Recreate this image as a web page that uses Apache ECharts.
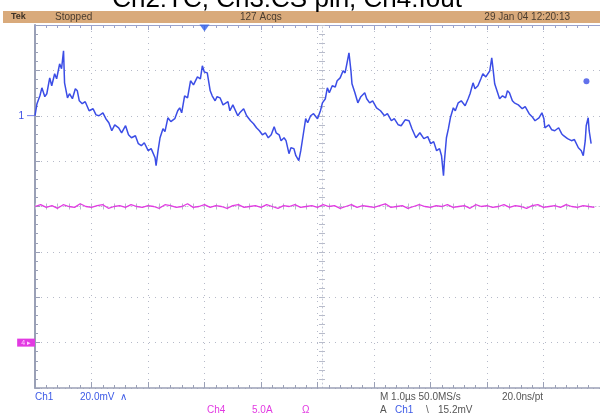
<!DOCTYPE html>
<html>
<head>
<meta charset="utf-8">
<script src="https://cdn.jsdelivr.net/npm/echarts@6/dist/echarts.min.js"></script>
<style>
html,body{margin:0;padding:0;background:#fff;}
#c{width:600px;height:415px;}
</style>
</head>
<body>
<div id="c"></div>
<script>
// ---- Data ----
// Ch1 trace: [time in µs, voltage in mV] (20 mV/div, 1 µs/div)
const ch1Trace = [
 [0,0],[0.035,5.3],[0.087,8.8],[0.122,12.3],[0.174,8.4],[0.209,9.7],[0.244,14.5],[0.261,16.7],[0.296,13.2],[0.348,18.5],
 [0.383,16.3],[0.436,22.9],[0.470,20.7],[0.505,28.6],[0.523,14.5],[0.575,7.9],[0.610,9.7],[0.662,7.5],[0.714,11.9],[0.749,11.0],
 [0.784,6.6],[0.836,5.3],[0.889,6.2],[0.958,2.2],[1.028,3.1],[1.080,0.4],[1.132,0],[1.202,1.3],[1.254,-1.3],[1.307,-3.1],
 [1.359,-6.6],[1.411,-4.0],[1.481,-5.3],[1.533,-7.5],[1.603,-4.4],[1.655,-8.4],[1.707,-9.7],[1.777,-8.8],[1.829,-12.3],[1.882,-13.2],
 [1.934,-11.9],[2.003,-15.4],[2.056,-14.5],[2.125,-18.5],[2.143,-22.0],[2.178,-15.4],[2.213,-9.7],[2.265,-5.7],[2.300,-7.0],[2.352,-0.9],
 [2.404,-2.6],[2.474,-1.3],[2.526,2.2],[2.561,3.5],[2.596,1.3],[2.648,8.8],[2.700,7.9],[2.753,15.4],[2.805,13.6],[2.875,17.1],
 [2.927,16.3],[2.962,22.0],[2.997,19.3],[3.049,18.9],[3.101,11.0],[3.136,8.8],[3.188,6.6],[3.223,8.4],[3.275,7.9],[3.328,4.8],
 [3.362,4.4],[3.415,6.2],[3.449,2.2],[3.502,4.8],[3.537,4.4],[3.589,0],[3.624,1.3],[3.693,3.1],[3.746,0],[3.815,-2.2],
 [3.868,-3.5],[3.920,-5.3],[3.972,-6.6],[4.024,-8.4],[4.077,-7.5],[4.129,-9.7],[4.181,-8.4],[4.233,-4.8],[4.268,-7.5],[4.321,-8.4],
 [4.355,-11.0],[4.408,-9.7],[4.443,-11.0],[4.495,-16.7],[4.530,-14.1],[4.582,-14.5],[4.617,-17.6],[4.669,-19.8],[4.704,-15.4],[4.739,-9.7],
 [4.791,-1.3],[4.826,-3.1],[4.878,0],[4.930,0.9],[5.000,-1.3],[5.052,2.2],[5.087,5.7],[5.139,7.5],[5.174,12.3],[5.209,10.1],
 [5.261,13.2],[5.314,12.7],[5.348,15.4],[5.401,16.7],[5.453,19.8],[5.488,18.9],[5.523,23.3],[5.557,27.7],[5.592,19.8],[5.610,14.1],
 [5.662,10.1],[5.714,5.7],[5.767,8.4],[5.836,10.1],[5.871,7.5],[5.923,5.7],[5.976,6.6],[6.045,3.5],[6.115,2.2],[6.185,0],
 [6.237,0.9],[6.307,-2.2],[6.359,-1.3],[6.429,-4.0],[6.481,-4.4],[6.551,-1.8],[6.620,-2.2],[6.672,-5.7],[6.742,-9.7],[6.812,-7.5],
 [6.882,-10.1],[6.951,-9.2],[7.003,-12.3],[7.056,-11.4],[7.108,-15.4],[7.160,-14.5],[7.195,-17.6],[7.230,-26.4],[7.247,-19.8],[7.282,-9.7],
 [7.317,-5.7],[7.352,-0.9],[7.404,3.5],[7.439,2.2],[7.491,5.7],[7.544,6.6],[7.613,4.4],[7.666,7.5],[7.700,9.7],[7.753,14.5],
 [7.787,11.9],[7.840,13.2],[7.892,16.3],[7.927,18.5],[7.979,17.1],[8.049,19.8],[8.084,25.5],[8.101,22.0],[8.136,14.1],[8.188,10.1],
 [8.223,7.5],[8.275,8.8],[8.328,7.9],[8.362,11.0],[8.397,10.1],[8.449,6.6],[8.484,5.7],[8.554,4.8],[8.624,3.1],[8.676,4.0],
 [8.746,0.9],[8.798,-0.4],[8.850,-2.2],[8.920,-0.9],[8.972,1.3],[9.007,-1.3],[9.024,-5.3],[9.094,-4.0],[9.146,-6.2],[9.199,-6.6],
 [9.268,-5.3],[9.321,-7.9],[9.355,-8.8],[9.425,-10.1],[9.495,-11.0],[9.547,-10.5],[9.617,-14.1],[9.669,-15.4],[9.704,-17.6],[9.739,-11.0],
 [9.756,-4.4],[9.791,-0.9],[9.808,-6.6],[9.843,-12.3]
];
// Ch4 trace: [time in µs, current in A] (5.0 A/div)
const ch4Trace = [
 [0.0,15.0],[0.1,15.2],[0.2,14.9],[0.3,15.1],[0.4,14.8],[0.5,15.2],[0.6,15.0],[0.7,14.9],[0.8,15.3],[0.9,15.0],
 [1.0,14.9],[1.1,15.1],[1.2,15.2],[1.3,14.8],[1.4,15.0],[1.5,15.1],[1.6,14.9],[1.7,15.2],[1.8,15.0],[1.9,14.9],
 [2.0,15.1],[2.1,15.0],[2.2,14.8],[2.3,15.2],[2.4,15.1],[2.5,14.9],[2.6,15.0],[2.7,15.3],[2.8,14.9],[2.9,15.0],
 [3.0,15.2],[3.1,14.9],[3.2,15.1],[3.3,15.0],[3.4,14.8],[3.5,15.1],[3.6,15.2],[3.7,14.9],[3.8,15.0],[3.9,15.1],
 [4.0,14.9],[4.1,15.2],[4.2,15.0],[4.3,14.8],[4.4,15.1],[4.5,15.0],[4.6,15.2],[4.7,14.9],[4.8,15.0],[4.9,15.1],
 [5.0,14.9],[5.1,15.2],[5.2,15.0],[5.3,15.1],[5.4,14.8],[5.5,15.0],[5.6,15.2],[5.7,14.9],[5.8,15.1],[5.9,15.0],
 [6.0,14.9],[6.1,15.1],[6.2,15.3],[6.3,14.9],[6.4,15.0],[6.5,15.1],[6.6,14.8],[6.7,15.0],[6.8,15.2],[6.9,15.0],
 [7.0,14.9],[7.1,15.1],[7.2,15.0],[7.3,15.2],[7.4,14.9],[7.5,15.0],[7.6,15.1],[7.7,14.8],[7.8,15.2],[7.9,15.0],
 [8.0,15.1],[8.1,14.9],[8.2,15.0],[8.3,15.2],[8.4,14.9],[8.5,15.1],[8.6,15.0],[8.7,14.8],[8.8,15.1],[8.9,15.2],
 [9.0,14.9],[9.1,15.0],[9.2,15.1],[9.3,14.9],[9.4,15.2],[9.5,15.0],[9.6,14.9],[9.7,15.1],[9.8,15.0],[9.9,14.9]
];
// Trigger position (µs) at top edge, and trigger level (mV) marker
const triggerPosition = [[3.0, 40]];
const triggerLevel = [[9.76, 15.2]];
// Axis scales: time 0..10 µs (1 µs/div); Ch1 -120..40 mV (20 mV/div); Ch4 -5..35 A (5 A/div)
const timeRange = [0, 10, 1];
const ch1Range = [-120, 40, 20];
const ch4Range = [-5, 35, 5];
// Texts
const titleText = 'Ch2:TC, Ch3:CS pin, Ch4:Iout';
const headerTexts = ['Tek', 'Stopped', '127 Acqs', '29 Jan 04 12:20:13'];

const FONT = 'Arial, "Liberation Sans", sans-serif';
const gridGrey = '#b6bac9';
const frameGrey = '#9aa0b6';
const BLUE = '#3b4de6';
const MAG = '#e23ae2';

const chart = echarts.init(document.getElementById('c'), null, {renderer: 'canvas'});

function tAxis(extra) {
  return Object.assign({
    type: 'value', min: timeRange[0], max: timeRange[1], interval: timeRange[2],
    axisLabel: {show: false}, splitLine: {show: false}
  }, extra);
}
function vAxis(range, extra) {
  return Object.assign({
    type: 'value', min: range[0], max: range[1], interval: range[2],
    axisLabel: {show: false}, splitLine: {show: false}
  }, extra);
}

const option = {
  animation: false,
  backgroundColor: '#ffffff',
  grid: {left: 35, top: 25, width: 574, height: 363, containLabel: false},
  xAxis: [
    tAxis({position: 'bottom',
      axisLine: {onZero: false, lineStyle: {color: frameGrey, width: 1.5}},
      axisTick: {show: true, inside: true, length: 6, lineStyle: {color: frameGrey}},
      minorTick: {show: true, splitNumber: 5, length: 3, lineStyle: {color: frameGrey}},
      splitLine: {show: true, lineStyle: {color: gridGrey, width: 1, type: [1, 5]}}}),
    tAxis({position: 'top',
      axisLine: {onZero: false, lineStyle: {color: '#9aa2cc', width: 1}},
      axisTick: {show: true, inside: true, length: 5, lineStyle: {color: '#9aa2cc'}},
      minorTick: {show: true, splitNumber: 5, length: 3, lineStyle: {color: '#9aa2cc'}}}),
    tAxis({position: 'bottom', offset: -181.5,
      axisLine: {onZero: false, lineStyle: {color: '#c4c8d6', width: 1, type: [1, 3]}},
      axisTick: {show: true, inside: true, length: 3, lineStyle: {color: '#b8bccb'}},
      minorTick: {show: true, splitNumber: 5, length: 3, lineStyle: {color: '#b8bccb'}}}),
    tAxis({position: 'bottom', offset: -181.5,
      axisLine: {show: false, onZero: false},
      axisTick: {show: true, inside: false, length: 3, lineStyle: {color: '#b8bccb'}},
      minorTick: {show: true, splitNumber: 5, length: 3, lineStyle: {color: '#b8bccb'}}})
  ],
  yAxis: [
    vAxis(ch1Range, {position: 'left',
      axisLine: {show: true, onZero: false, lineStyle: {color: frameGrey, width: 2}},
      axisTick: {show: true, inside: true, length: 5, lineStyle: {color: frameGrey}},
      minorTick: {show: true, splitNumber: 5, length: 3, lineStyle: {color: frameGrey}},
      splitLine: {show: true, lineStyle: {color: gridGrey, width: 1, type: [1, 5]}},
      axisLabel: {show: true, margin: 1, fontSize: 10, fontFamily: FONT, color: BLUE,
        formatter: v => v === 0 ? '1 \u2500' : ''}}),
    vAxis(ch4Range, {position: 'left',
      axisLine: {show: false, onZero: false}, axisTick: {show: false},
      axisLabel: {show: true, margin: 0, fontSize: 7, fontFamily: FONT,
        formatter: v => v === 0 ? '{m|4 \u25B8}' : '',
        rich: {m: {color: '#ffd0ff', backgroundColor: MAG, padding: [1, 4, 0, 4], fontSize: 7, fontFamily: FONT}}}}),
    vAxis(ch1Range, {position: 'left', offset: -287,
      axisLine: {show: true, onZero: false, lineStyle: {color: '#c4c8d6', width: 1, type: [1, 3]}},
      axisTick: {show: true, inside: true, length: 3, lineStyle: {color: '#b8bccb'}},
      minorTick: {show: true, splitNumber: 5, length: 3, lineStyle: {color: '#b8bccb'}}}),
    vAxis(ch1Range, {position: 'left', offset: -287,
      axisLine: {show: false, onZero: false},
      axisTick: {show: true, inside: false, length: 3, lineStyle: {color: '#b8bccb'}},
      minorTick: {show: true, splitNumber: 5, length: 3, lineStyle: {color: '#b8bccb'}}})
  ],
  series: [
    {type: 'line', name: 'Ch4', xAxisIndex: 0, yAxisIndex: 1, data: ch4Trace,
      showSymbol: false, symbol: 'none', lineStyle: {color: MAG, width: 1.3}, z: 3},
    {type: 'line', name: 'Ch1', xAxisIndex: 0, yAxisIndex: 0, data: ch1Trace,
      showSymbol: false, symbol: 'none', lineStyle: {color: BLUE, width: 1.5}, z: 4},
    {type: 'scatter', xAxisIndex: 0, yAxisIndex: 0, data: triggerPosition, clip: false,
      symbol: 'triangle', symbolRotate: 180, symbolSize: [10, 7], symbolOffset: [0, 3],
      itemStyle: {color: '#2f5fe8'}, z: 6},
    {type: 'scatter', xAxisIndex: 0, yAxisIndex: 0, data: triggerLevel, clip: false,
      symbol: 'circle', symbolSize: 6, itemStyle: {color: BLUE}, z: 6}
  ],
  graphic: [
    {type: 'rect', shape: {x: 3, y: 11, width: 597, height: 12}, style: {fill: '#d9aa7b'}, z: 1},
    {type: 'text', x: 287, y: 0, z: 10, style: {text: titleText, fill: '#000',
      font: '26px ' + FONT, textAlign: 'center', textVerticalAlign: 'middle'}},
    {type: 'text', x: 11, y: 17, z: 10, style: {text: headerTexts[0], fill: '#3e3226', font: 'bold 9px ' + FONT, textVerticalAlign: 'middle'}},
    {type: 'text', x: 55, y: 17, z: 10, style: {text: headerTexts[1], fill: '#4a3c2e', font: '10px ' + FONT, textVerticalAlign: 'middle'}},
    {type: 'text', x: 240, y: 17, z: 10, style: {text: headerTexts[2], fill: '#4a3c2e', font: '10px ' + FONT, textVerticalAlign: 'middle'}},
    {type: 'text', x: 570, y: 17, z: 10, style: {text: headerTexts[3], fill: '#4a3c2e', font: '10px ' + FONT, textAlign: 'right', textVerticalAlign: 'middle'}},
    // footer row 1
    {type: 'text', x: 35, y: 397, style: {text: 'Ch1', fill: '#3d5ae6', font: '10px ' + FONT, textVerticalAlign: 'middle'}},
    {type: 'text', x: 80, y: 397, style: {text: '20.0mV  \u2227', fill: '#3d5ae6', font: '10px ' + FONT, textVerticalAlign: 'middle'}},
    {type: 'text', x: 380, y: 397, style: {text: 'M 1.0\u00b5s 50.0MS/s', fill: '#555', font: '10px ' + FONT, textVerticalAlign: 'middle'}},
    {type: 'text', x: 502, y: 397, style: {text: '20.0ns/pt', fill: '#555', font: '10px ' + FONT, textVerticalAlign: 'middle'}},
    // footer row 2
    {type: 'text', x: 207, y: 410, style: {text: 'Ch4', fill: MAG, font: '10px ' + FONT, textVerticalAlign: 'middle'}},
    {type: 'text', x: 252, y: 410, style: {text: '5.0A', fill: MAG, font: '10px ' + FONT, textVerticalAlign: 'middle'}},
    {type: 'text', x: 302, y: 410, style: {text: '\u03A9', fill: MAG, font: '10px ' + FONT, textVerticalAlign: 'middle'}},
    {type: 'text', x: 380, y: 410, style: {text: 'A', fill: '#555', font: '10px ' + FONT, textVerticalAlign: 'middle'}},
    {type: 'text', x: 395, y: 410, style: {text: 'Ch1', fill: '#3d5ae6', font: '10px ' + FONT, textVerticalAlign: 'middle'}},
    {type: 'text', x: 426, y: 410, style: {text: '\\', fill: '#555', font: '10px ' + FONT, textVerticalAlign: 'middle'}},
    {type: 'text', x: 438, y: 410, style: {text: '15.2mV', fill: '#555', font: '10px ' + FONT, textVerticalAlign: 'middle'}}
  ]
};
chart.setOption(option);
</script>
</body>
</html>
